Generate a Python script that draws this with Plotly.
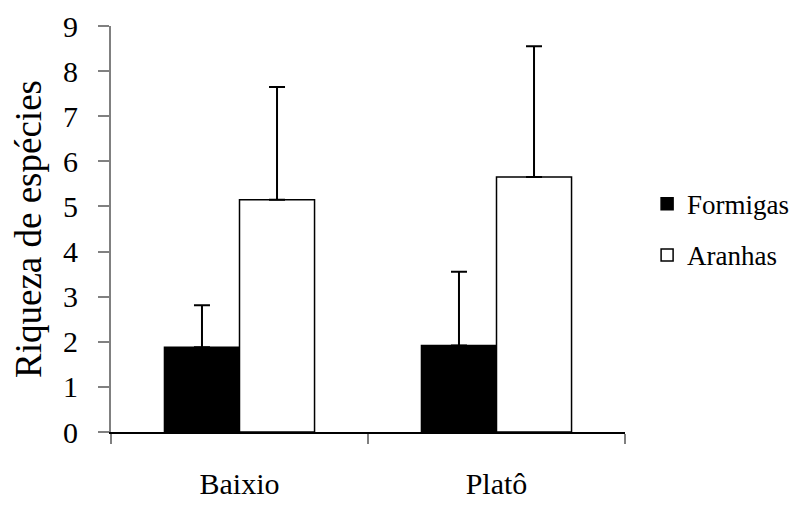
import plotly.graph_objects as go

categories = ["Baixio", "Platô"]
series_names = ["Formigas", "Aranhas"]
formigas = [1.88, 1.92]
formigas_err = [0.93, 1.63]
aranhas = [5.15, 5.65]
aranhas_err = [2.5, 2.9]
y_ticks = list(range(0, 10))

FONT = "Liberation Serif, Times New Roman, serif"

fig = go.Figure()
fig.add_trace(go.Bar(
    name=series_names[0], x=categories, y=formigas, legendgroup="f",
    marker=dict(color="black", line=dict(color="black", width=1.5)),
    error_y=dict(type="data", array=formigas_err, arrayminus=[0, 0],
                 symmetric=False, color="black", thickness=2, width=8),
))
fig.add_trace(go.Bar(
    name=series_names[1], x=categories, y=aranhas, legendgroup="a",
    marker=dict(color="white", line=dict(color="black", width=1.5)),
    error_y=dict(type="data", array=aranhas_err, arrayminus=[0, 0],
                 symmetric=False, color="black", thickness=2, width=8),
))

fig.update_layout(
    width=798, height=505,
    margin=dict(l=103, r=181, t=18, b=81, autoexpand=False),
    paper_bgcolor="white", plot_bgcolor="white",
    barmode="group", bargap=0.416, bargroupgap=0,
    font=dict(family=FONT, color="black"),
    showlegend=True,
    legend=dict(x=1.043, y=0.498, xanchor="left", yanchor="middle",
                font=dict(family=FONT, size=27, color="black"),
                tracegroupgap=13, itemwidth=30),
    xaxis=dict(
        automargin=False,
        showline=True, linecolor="black", linewidth=1.5,
        ticks="outside", tickson="boundaries", ticklen=10,
        tickcolor="#808080", tickwidth=1.5,
        tickfont=dict(family=FONT, size=30, color="black"),
        ticklabelstandoff=24,
        showgrid=False, zeroline=False,
    ),
    yaxis=dict(
        automargin=False,
        range=[0, 9], tickvals=y_ticks,
        showline=True, linecolor="#808080", linewidth=2,
        ticks="outside", ticklen=11, tickcolor="#808080", tickwidth=1.5,
        tickfont=dict(family=FONT, size=30, color="black"),
        ticklabelstandoff=14,
        showgrid=False, zeroline=False,
        title=dict(text="Riqueza de espécies",
                   font=dict(family=FONT, size=37, color="black"),
                   standoff=11),
    ),
)

fig.write_html("out.html")
